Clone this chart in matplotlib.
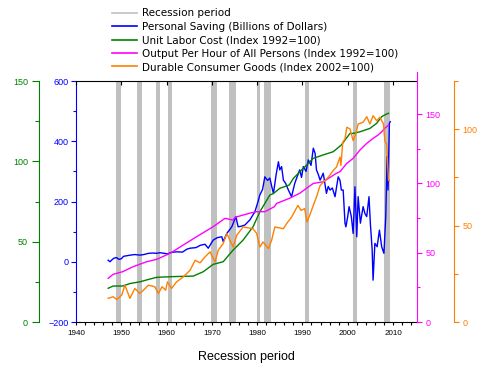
import matplotlib
matplotlib.use('Agg')
import matplotlib.pyplot as plt
from matplotlib.ticker import MultipleLocator, FixedLocator

plt.rcParams['font.family'] = ['Liberation Sans', 'DejaVu Sans']

# Periodos de recessao (inicio, fim)
recessoes = [(1948.8, 1949.9), (1953.5, 1954.5), (1957.7, 1958.5), (1960.3, 1961.2),
             (1969.8, 1971.1), (1973.8, 1975.3), (1980.0, 1980.6), (1981.5, 1983.0),
             (1990.6, 1991.4), (2001.2, 2002.0), (2008.0, 2009.3)]

# Personal Saving (bilhoes de dolares)
anos_poup = [1947.1, 1947.5, 1947.9, 1948.4, 1948.9, 1949.5, 1950.0, 1950.5, 1951.2, 1952.0,
             1953.0, 1954.1, 1955.0, 1956.0, 1957.0, 1957.8, 1958.5, 1959.5, 1960.2, 1961.0,
             1962.2, 1963.5, 1964.5, 1965.2, 1966.5, 1967.5, 1968.5, 1969.2, 1970.3, 1971.2,
             1972.2, 1972.5, 1973.3, 1974.4, 1975.3, 1975.8, 1976.5, 1977.3, 1978.4, 1979.5,
             1980.2, 1980.6, 1981.2, 1981.7, 1982.3, 1982.8, 1983.3, 1983.6, 1984.2, 1984.7,
             1985.0, 1985.4, 1985.8, 1986.3, 1986.9, 1987.6, 1988.3, 1988.9, 1989.4, 1989.8,
             1990.2, 1990.8, 1991.3, 1991.9, 1992.4, 1992.8, 1993.1, 1993.5, 1993.9, 1994.6,
             1995.3, 1995.7, 1996.1, 1996.6, 1997.2, 1997.9, 1998.3, 1998.6, 1999.0, 1999.4,
             1999.6, 2000.0, 2000.3, 2000.8, 2001.2, 2001.6, 2002.0, 2002.3, 2002.8, 2003.4,
             2003.8, 2004.2, 2004.7, 2005.0, 2005.4, 2005.6, 2006.0, 2006.5, 2007.0, 2007.5,
             2008.0, 2008.4, 2008.7, 2008.9, 2009.2, 2009.4]
poupanca = [5, 0, 6, 12, 14, 8, 10, 18, 20, 22,
            24, 22, 24, 28, 29, 28, 30, 28, 26, 31,
            33, 32, 42, 45, 47, 55, 58, 45, 72, 80,
            83, 67, 94, 116, 150, 116, 118, 122, 139, 166,
            200, 222, 240, 282, 270, 278, 245, 227, 290, 332,
            305, 316, 271, 260, 238, 216, 260, 285, 305, 280,
            316, 300, 338, 320, 377, 360, 305, 290, 271, 294,
            227, 250, 238, 245, 216, 282, 270, 238, 238, 128,
            116, 150, 183, 150, 94, 249, 83, 216, 128, 183,
            160, 150, 216, 128, 39, -61, 61, 50, 105, 50,
            28, 150, 349, 238, 460, 465]

# Unit Labor Cost (indice 1992=100)
anos_custo = [1947.1, 1948.2, 1950.3, 1952.0, 1954.1, 1956.0, 1957.8, 1960.8, 1965.9, 1968.1,
              1970.3, 1972.5, 1974.7, 1976.9, 1979.1, 1980.6, 1982.8, 1983.6, 1985.0, 1987.1,
              1988.0, 1990.2, 1992.4, 1994.6, 1996.8, 1998.6, 2000.5, 2001.2, 2002.7, 2004.9,
              2006.4, 2007.5, 2008.6, 2009.0]
custo = [21, 22.4, 22.4, 24, 25, 26.5, 27.8, 28.2, 28.6, 31.3,
         35.9, 37.5, 44.8, 51, 59.3, 68.6, 79, 80, 83.2, 85.3,
         89.4, 95.7, 101.9, 104, 106, 110.2, 117.4, 117.4, 118.4, 120.5,
         123.7, 127.8, 129.5, 129.9]

# Output Per Hour of All Persons (indice 1992=100)
anos_prod = [1947.1, 1948.2, 1950.3, 1952.6, 1955.6, 1957.8, 1960.8, 1963.7, 1966.6, 1970.3,
             1972.9, 1974.7, 1975.1, 1976.9, 1978.8, 1979.9, 1981.7, 1983.8, 1984.3, 1987.1,
             1989.4, 1990.9, 1992.4, 1994.6, 1996.1, 1997.5, 1998.3, 1999.8, 2001.2, 2002.7,
             2004.2, 2005.6, 2006.7, 2007.5, 2008.2, 2009.0]
produtividade = [31.5, 34.4, 36.3, 39.9, 43.5, 45.2, 49.6, 55.6, 61.5, 68.8,
                 74.8, 73.6, 75.5, 77.2, 78.9, 79.6, 79.6, 83.2, 85.6, 89.2,
                 92.9, 96.5, 100, 101.2, 104.4, 107.3, 108.5, 114.5, 118.1, 124.1,
                 128.9, 132.5, 134.9, 137.3, 139.8, 142.1]

# Durable Consumer Goods (indice 2002=100)
anos_duraveis = [1947.1, 1948.2, 1949.0, 1950.1, 1950.8, 1951.9, 1953.0, 1954.1, 1954.9, 1956.0,
                 1957.4, 1958.2, 1959.0, 1959.8, 1960.2, 1961.1, 1962.2, 1963.7, 1965.2, 1966.3,
                 1967.4, 1968.5, 1969.6, 1970.7, 1971.4, 1972.5, 1973.3, 1974.0, 1974.7, 1975.5,
                 1976.9, 1979.1, 1979.9, 1980.6, 1981.3, 1982.5, 1983.2, 1983.9, 1985.8, 1986.5,
                 1987.6, 1989.0, 1989.7, 1990.5, 1991.0, 1991.6, 1992.4, 1993.1, 1993.9, 1994.6,
                 1995.7, 1996.8, 1997.5, 1998.3, 1998.5, 1998.9, 1999.4, 1999.8, 2000.5, 2001.2,
                 2001.8, 2002.3, 2003.4, 2004.2, 2004.9, 2005.6, 2006.4, 2007.1, 2007.9, 2008.2,
                 2008.6, 2009.0, 2009.2]
duraveis = [12.3, 13.1, 11.7, 14, 19.1, 12.3, 17.4, 14.8, 16.5, 19.1,
            18.3, 14.8, 18.3, 16.5, 20.8, 17.4, 20.8, 23.4, 26.9, 32,
            30.7, 33.8, 36.4, 31.2, 37.2, 40.7, 45.9, 42.4, 38.9, 45,
            49.3, 48.4, 45.9, 38.9, 41.5, 38.1, 42.4, 49.3, 48.4, 51,
            54.4, 60.5, 57.9, 58.8, 51.9, 55.3, 60.5, 64.8, 70.8, 72.5,
            75.1, 78.6, 80.3, 85.5, 81.2, 93.2, 95, 101, 100.2, 94.1,
            97.6, 102.7, 103.6, 106.5, 102.7, 107, 104.4, 106.2, 102.7, 94.1,
            92.4, 73.4, 73.4]

azul = '#0000ff'
verde = '#008000'
magenta = '#ff00ff'
laranja = '#ff8000'
cinza = '#c0c0c0'

fig = plt.figure(figsize=(5, 3.8), dpi=100)
pos = [0.152, 0.1526, 0.682, 0.6342]

# Eixo principal (poupanca, eixo x)
ax = fig.add_axes(pos)
for ini, fim in recessoes:
    ax.axvspan(ini, fim, color=cinza, lw=0, zorder=0)
ax.plot(anos_poup, poupanca, color=azul, lw=1.0, zorder=3)
ax.set_xlim(1940, 2015.3)
ax.set_ylim(-200, 600)
ax.xaxis.set_major_locator(MultipleLocator(10))
ax.xaxis.set_minor_locator(MultipleLocator(2))
ax.yaxis.set_major_locator(MultipleLocator(200))
ax.yaxis.set_minor_locator(MultipleLocator(100))
ax.spines['right'].set_visible(False)
ax.spines['left'].set_color(azul)
ax.tick_params(axis='x', which='both', direction='out', length=2.5, width=0.8,
               labelsize=5.8, pad=3, top=False)
ax.tick_params(axis='y', which='major', colors=azul, length=3.5, width=0.8, labelsize=6.5, pad=2)
ax.tick_params(axis='y', which='minor', colors=azul, length=2.5, width=0.8)
ax.set_xlabel('Recession period', fontsize=9, labelpad=10)

# Eixo verde (custo unitario) deslocado para a esquerda
axg = fig.add_axes(pos, sharex=ax)
axg.patch.set_visible(False)
for lado in ['top', 'right', 'bottom']:
    axg.spines[lado].set_visible(False)
axg.spines['left'].set_position(('axes', -0.1085))
axg.spines['left'].set_color(verde)
axg.plot(anos_custo, custo, color=verde, lw=1.0)
axg.set_ylim(0, 150)
axg.yaxis.set_major_locator(MultipleLocator(50))
axg.yaxis.set_minor_locator(MultipleLocator(25))
axg.tick_params(axis='y', which='major', colors=verde, length=5, width=0.8, labelsize=6.5, pad=3)
axg.tick_params(axis='y', which='minor', colors=verde, length=2.7, width=0.8)
# ticks internos no topo do grafico
axg.tick_params(axis='x', which='major', bottom=False, labelbottom=False, top=True,
                labeltop=False, direction='in', length=3, width=0.8)
axg.tick_params(axis='x', which='minor', bottom=False, top=False)

# Eixo magenta (produtividade), um pouco mais alto que o grafico
pos_m = [pos[0], pos[1], pos[2], 0.6579]
axm = fig.add_axes(pos_m, sharex=ax)
axm.patch.set_visible(False)
for lado in ['top', 'left', 'bottom']:
    axm.spines[lado].set_visible(False)
axm.spines['right'].set_color(magenta)
axm.plot(anos_prod, produtividade, color=magenta, lw=1.0)
axm.set_ylim(0, 180.4)
axm.yaxis.tick_right()
axm.yaxis.set_major_locator(FixedLocator([0, 50, 100, 150]))
axm.yaxis.set_minor_locator(FixedLocator([25, 75, 125]))
axm.tick_params(axis='y', which='major', colors=magenta, length=3.6, width=0.8, labelsize=6.5, pad=2.5)
axm.tick_params(axis='y', which='minor', colors=magenta, length=2, width=0.8)
axm.tick_params(axis='x', which='both', bottom=False, labelbottom=False)

# Eixo laranja (bens duraveis) deslocado para a direita
axo = fig.add_axes(pos, sharex=ax)
axo.patch.set_visible(False)
for lado in ['top', 'left', 'bottom']:
    axo.spines[lado].set_visible(False)
axo.spines['right'].set_position(('axes', 1.1076))
axo.spines['right'].set_color(laranja)
axo.plot(anos_duraveis, duraveis, color=laranja, lw=1.0)
axo.set_ylim(0, 125)
axo.yaxis.tick_right()
axo.yaxis.set_major_locator(MultipleLocator(50))
axo.yaxis.set_minor_locator(MultipleLocator(25))
axo.tick_params(axis='y', which='major', colors=laranja, length=3.8, width=0.8, labelsize=6.5, pad=2.5)
axo.tick_params(axis='y', which='minor', colors=laranja, length=2.7, width=0.8)
axo.tick_params(axis='x', which='both', bottom=False, labelbottom=False)

# Legenda no topo
handles = [plt.Line2D([], [], color=cinza, lw=1.2),
           plt.Line2D([], [], color=azul, lw=1.2),
           plt.Line2D([], [], color=verde, lw=1.2),
           plt.Line2D([], [], color=magenta, lw=1.2),
           plt.Line2D([], [], color=laranja, lw=1.2)]
rotulos = ['Recession period',
           'Personal Saving (Billions of Dollars)',
           'Unit Labor Cost (Index 1992=100)',
           'Output Per Hour of All Persons (Index 1992=100)',
           'Durable Consumer Goods (Index 2002=100)']
fig.legend(handles, rotulos, loc='upper left', bbox_to_anchor=(0.224, 0.978),
           frameon=False, prop={'family': 'DejaVu Sans', 'size': 7.5},
           handlelength=2.4, handletextpad=0.45, labelspacing=0.33,
           borderpad=0, borderaxespad=0)

fig.savefig('out.png', dpi=100)
